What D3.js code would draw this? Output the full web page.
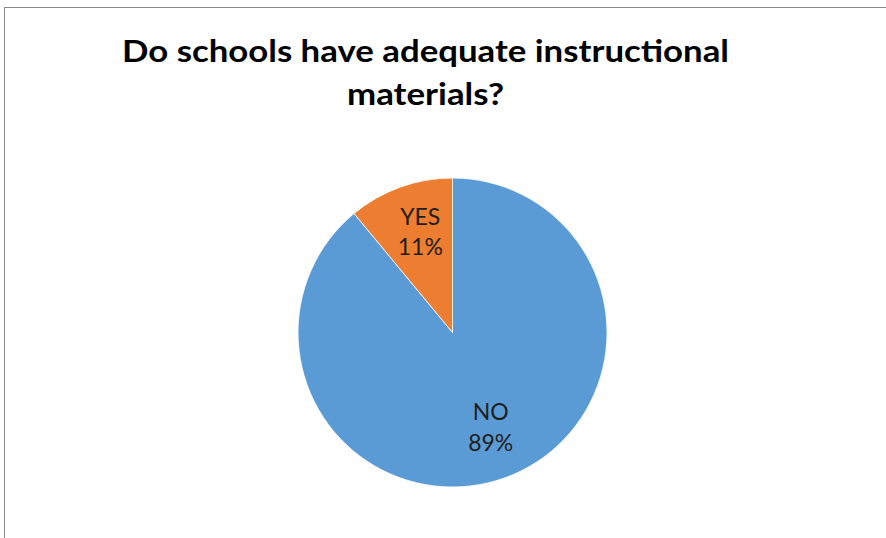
<!DOCTYPE html>
<html>
<head>
<meta charset="utf-8">
<script src="https://cdn.jsdelivr.net/npm/d3@7"></script>
<style>
  body { margin: 0; background: #fff; }
  svg { display: block; }
</style>
</head>
<body>
<div id="chart"></div>
<script>
// data
let categories = ['NO', 'YES']
let values = [89, 11]
let colors = ['#5b9bd5', '#ed7d31']
let titleLines = ['Do schools have adequate instructional', 'materials?']

let w = 886,
  h = 538
let cx = 452.5,
  cy = 332.5,
  r = 154.5

let svg = d3.select('#chart').append('svg').attr('width', w).attr('height', h)

// chart frame
svg.append('rect')
  .attr('x', 4.5).attr('y', 7.5).attr('width', w + 10).attr('height', h + 10)
  .attr('fill', 'none').attr('stroke', '#8c8c8c').attr('stroke-width', 1)

// title
svg.selectAll('.title').data(titleLines).enter().append('text')
  .classed('title', true)
  .text(d => d)
  .attr('x', 425.5)
  .attr('y', (d, i) => 62 + i * 43)
  .attr('text-anchor', 'middle')
  .attr('font-family', 'Lato, "Open Sans", sans-serif')
  .attr('font-weight', 'bold')
  .attr('font-size', 30)
  .attr('fill', '#000')
  .attr('textLength', (d, i) => i === 0 ? 607 : 157)
  .attr('lengthAdjust', 'spacingAndGlyphs')

let data = categories.map((c, i) => ({name: c, value: values[i], color: colors[i]}))
let pie = d3.pie().sort(null).value(d => d.value)
let arc = d3.arc().innerRadius(0).outerRadius(r)
let labelArc = d3.arc().innerRadius(104).outerRadius(104)
let total = d3.sum(values)

let g = svg.append('g').attr('transform', `translate(${cx}, ${cy})`)

let slices = g.selectAll('.slice').data(pie(data)).enter().append('g').classed('slice', true)

slices.append('path')
  .attr('d', arc)
  .attr('fill', d => d.data.color)
  .attr('stroke', '#fff').attr('stroke-width', 0.8)

// labels
let labels = slices.append('text')
  .attr('transform', d => {
    let c = labelArc.centroid(d)
    return `translate(${c[0] + 3}, ${c[1]})`
  })
  .attr('text-anchor', 'middle')
  .attr('font-family', 'Lato, "Open Sans", sans-serif')
  .attr('font-size', 23)
  .attr('fill', '#1e1e1e')

labels.append('tspan').attr('x', 0).attr('y', -10).text(d => d.data.name)
labels.append('tspan').attr('x', 0).attr('y', 20.5)
  .text(d => Math.round(d.data.value / total * 100) + '%')
</script>
</body>
</html>
